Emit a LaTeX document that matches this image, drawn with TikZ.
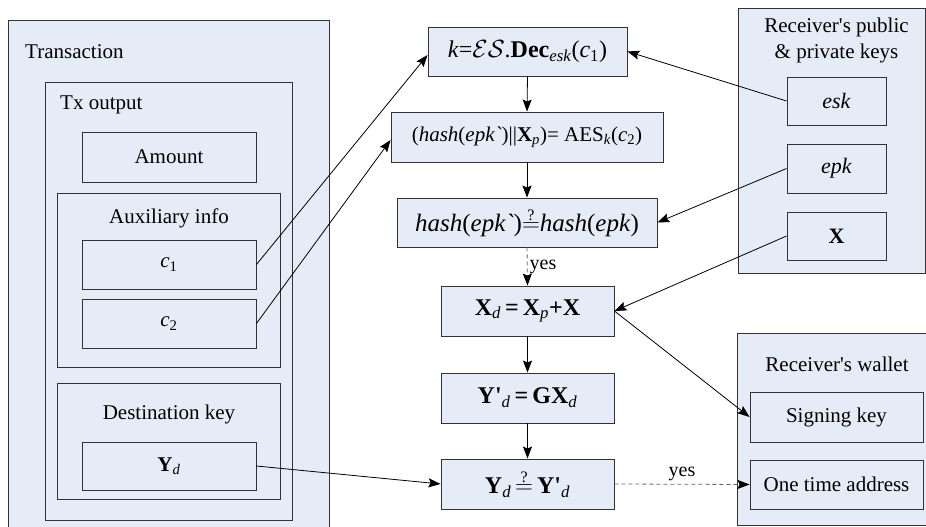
\documentclass[tikz,border=0pt]{standalone}
\usepackage{fontspec}
\setmainfont{Liberation Serif}
\usetikzlibrary{arrows.meta,calc}
\definecolor{boxfill}{RGB}{230,236,247}
\definecolor{edge}{RGB}{50,50,50}
\tikzset{
  bx/.style={draw=edge,fill=boxfill,line width=0.9pt,inner sep=0pt,align=center},
  lbl/.style={inner sep=0pt,font=\fontsize{21}{25}\selectfont},
  arr/.style={-{Stealth[length=12pt,width=9pt,inset=2pt]},line width=0.8pt,black},
  darr/.style={-{Stealth[length=12pt,width=9pt,inset=2pt,color=black]},line width=0.8pt,draw=gray!80!black,dash pattern=on 4pt off 3pt}
}
\newcommand{\qeq}{\ensuremath{\stackrel{\mbox{\fontsize{16}{16}\selectfont ?}}{=}}}
\newcommand{\gr}{\textasciigrave}
\newcommand{\ap}{\textquotesingle}
\begin{document}
\begin{tikzpicture}[x=1pt,y=-1pt]
\useasboundingbox (0,0) rectangle (926,527);
% Transaction side
\node[bx,minimum width=321pt,minimum height=512pt] (trans) at (168.5,276) {};
\node[lbl,anchor=west] (transl) at (25,52) {Transaction};
\node[bx,minimum width=247pt,minimum height=438pt] (txout) at (168.5,301) {};
\node[lbl,anchor=west] (txoutl) at (60,105) {Tx output};
\node[bx,minimum width=174pt,minimum height=50pt,font=\fontsize{21}{25}\selectfont] (amount) at (169,157) {Amount};
\node[bx,minimum width=223pt,minimum height=174pt] (aux) at (168.5,280) {};
\node[lbl] (auxl) at (169,218) {Auxiliary info};
\node[bx,minimum width=174pt,minimum height=49pt,font=\fontsize{21}{25}\selectfont] (c1) at (169,264.5) {\textit{c}\textsubscript{1}};
\node[bx,minimum width=174pt,minimum height=49pt,font=\fontsize{21}{25}\selectfont] (c2) at (169,323.5) {\textit{c}\textsubscript{2}};
\node[bx,minimum width=223pt,minimum height=116pt] (dest) at (168.5,441) {};
\node[lbl] (destl) at (169,414) {Destination key};
\node[bx,minimum width=174pt,minimum height=48pt,font=\fontsize{21}{25}\selectfont] (yd) at (169,466) {\textbf{Y}\textsubscript{\textit{d}}};
% middle column
\node[bx,minimum width=199pt,minimum height=49pt,font=\fontsize{24}{28}\selectfont] (b1) at (527.5,51.5)
  {\textit{k}=$\mathcal{E}\mathcal{S}$.\textbf{Dec}\textsubscript{\textit{esk}}(\textit{c}\textsubscript{1})};
\node[bx,minimum width=272pt,minimum height=50pt,font=\fontsize{21}{25}\selectfont] (b2) at (527,137)
  {(\textit{hash}(\textit{epk\gr})||\textbf{X}\textsubscript{\textit{p}})= AES\textsubscript{\textit{k}}(\textit{c}\textsubscript{2})};
\node[bx,minimum width=260pt,minimum height=49pt,font=\fontsize{25}{29}\selectfont] (b3) at (527,222.5)
  {\textit{hash}(\textit{epk\gr})\qeq\textit{hash}(\textit{epk})};
\node[bx,minimum width=173pt,minimum height=50pt,font=\fontsize{24}{28}\selectfont] (b4) at (527.5,311)
  {\textbf{X}\textsubscript{\textit{d}}\,\textbf{=}\,\textbf{X}\textsubscript{\textit{p}}\textbf{+X}};
\node[bx,minimum width=173pt,minimum height=50pt,font=\fontsize{24}{28}\selectfont] (b5) at (527.5,398)
  {\textbf{Y\ap}\textsubscript{\textit{d}}\,\textbf{=}\,\textbf{GX}\textsubscript{\textit{d}}};
\node[bx,minimum width=173pt,minimum height=50pt,font=\fontsize{24}{28}\selectfont] (b6) at (527.5,484)
  {\textbf{Y}\textsubscript{\textit{d}}\,\qeq\,\textbf{Y\ap}\textsubscript{\textit{d}}};
% keys box
\node[bx,minimum width=187pt,minimum height=265pt] (keys) at (831.5,140.5) {};
\node[lbl] (keysl1) at (836.5,27) {Receiver\ap s public};
\node[lbl] (keysl2) at (836.5,53) {\& private keys};
\node[bx,minimum width=99pt,minimum height=48pt,font=\fontsize{22}{26}\selectfont] (esk) at (836.5,101) {\textit{esk}};
\node[bx,minimum width=99pt,minimum height=49pt,font=\fontsize{22}{26}\selectfont] (epk) at (836.5,168.5) {\textit{epk}};
\node[bx,minimum width=99pt,minimum height=48pt,font=\fontsize{22}{26}\selectfont] (xk) at (836.5,236) {\textbf{X}};
% wallet
\node[bx,minimum width=198pt,minimum height=192pt] (wallet) at (836,429) {};
\node[lbl] (walletl) at (837,364) {Receiver\ap s wallet};
\node[bx,minimum width=173pt,minimum height=50pt,font=\fontsize{21}{25}\selectfont] (sign) at (836.5,417) {Signing key};
\node[bx,minimum width=173pt,minimum height=49pt,font=\fontsize{21}{25}\selectfont] (ota) at (836.5,484.5) {One time address};
% arrows
\draw[arr] (c1.east) -- ([yshift=-3.5pt]b1.west);
\draw[arr] (c2.east) -- ([yshift=-3pt]b2.west);
\draw[arr] (yd.east) -- (b6.west);
\draw[arr] (esk.west) -- (b1.east);
\draw[arr] (epk.west) -- (b3.east);
\draw[arr] (xk.west) -- (b4.east);
\draw[arr] (b4.east) -- (sign.west);
\draw[arr] (b1.south) -- (b2.north);
\draw[arr] (b2.south) -- (b3.north);
\draw[darr] (b3.south) -- node[right,inner sep=2pt,font=\fontsize{20}{24}\selectfont,text=black] {yes} (b4.north);
\draw[arr] (b4.south) -- (b5.north);
\draw[arr] (b5.south) -- (b6.north);
\draw[darr] (b6.east) -- node[above,inner sep=3pt,font=\fontsize{20}{24}\selectfont,text=black] {yes} (ota.west);
\end{tikzpicture}
\end{document}
